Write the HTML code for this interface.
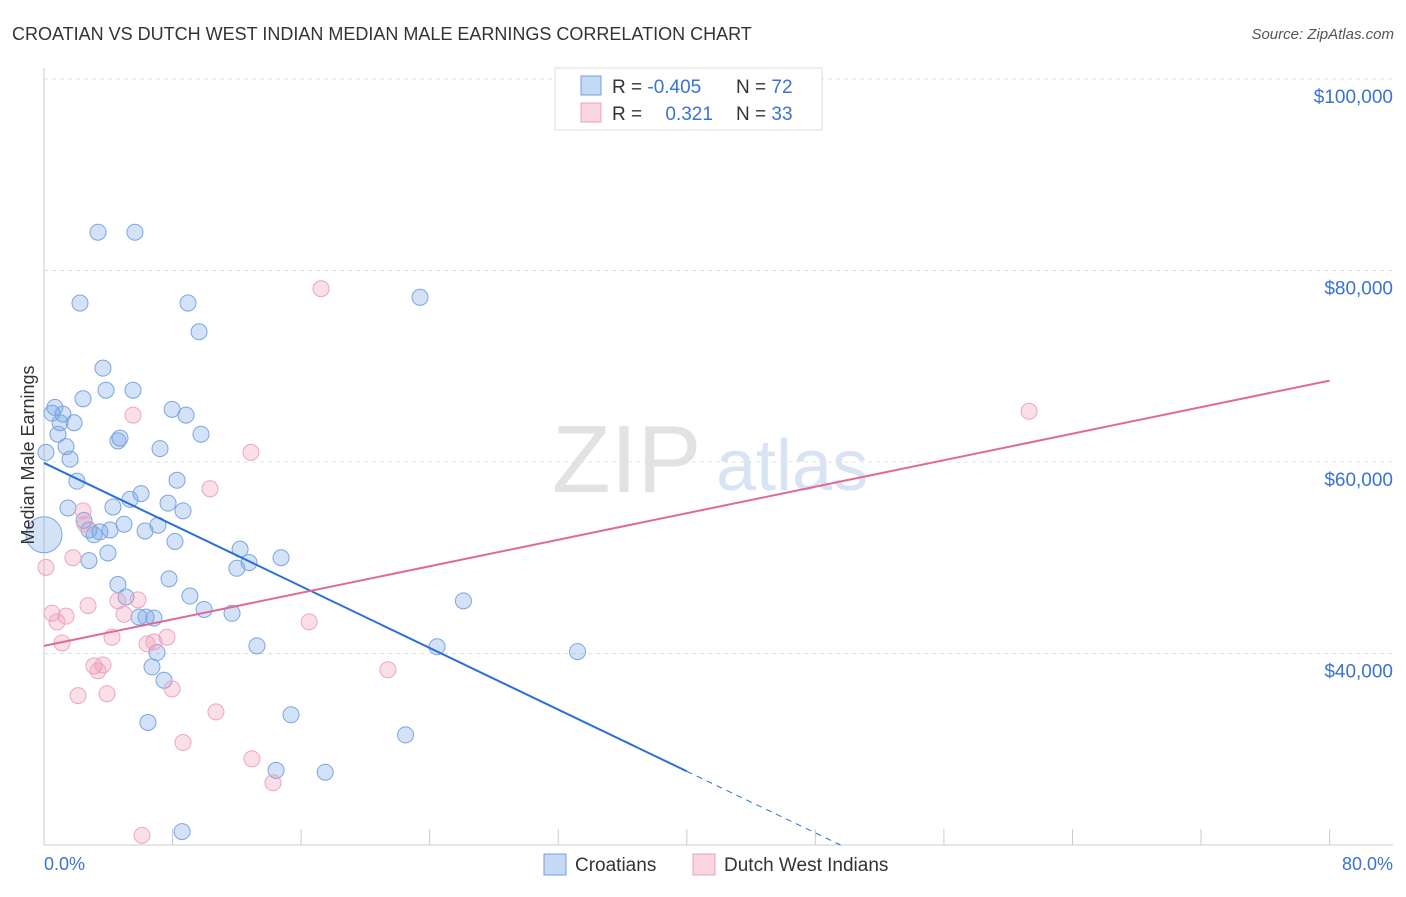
<!DOCTYPE html>
<html><head><meta charset="utf-8"><style>
body{margin:0;background:#fff;font-family:"Liberation Sans",sans-serif;}
svg text{font-family:"Liberation Sans",sans-serif;}
</style></head><body>
<svg id="chart" width="1406" height="892" xmlns="http://www.w3.org/2000/svg">
<text x="12" y="40" font-size="18" fill="#333">CROATIAN VS DUTCH WEST INDIAN MEDIAN MALE EARNINGS CORRELATION CHART</text>
<text x="1394" y="39" font-size="15" fill="#555" text-anchor="end" font-style="italic">Source: ZipAtlas.com</text>
<g>
<text x="552" y="492" font-size="96" fill="#e2e2e2" font-family="Liberation Serif,serif">ZIP</text>
<text x="716" y="490" font-size="72" fill="#d8e4f4">atlas</text>
</g>
<g id="grid"></g>
<g id="axes"></g>
<g id="marks"></g>
<text transform="translate(34,455) rotate(-90)" font-size="18" fill="#333" text-anchor="middle">Median Male Earnings</text>
<text x="44" y="870" font-size="18" fill="#3a73d1">0.0%</text>
<text x="1393" y="870" font-size="18" fill="#3a73d1" text-anchor="end">80.0%</text>
<g>
<rect x="555" y="68" width="267" height="62" fill="#fff" stroke="#ddd"/>
<rect x="581" y="76" width="20" height="19" fill="rgba(110,160,230,0.4)" stroke="#6f9fe0"/>
<rect x="581" y="103" width="20" height="19" fill="rgba(240,150,180,0.4)" stroke="#eea0ba"/>
<text x="612" y="93" font-size="19" fill="#333">R = <tspan fill="#3a73d1">-0.405</tspan></text>
<text x="736" y="93" font-size="19" fill="#333">N = <tspan fill="#3a73d1">72</tspan></text>
<text x="612" y="120" font-size="19" fill="#333">R = <tspan fill="#3a73d1" dx="18">0.321</tspan></text>
<text x="736" y="120" font-size="19" fill="#333">N = <tspan fill="#3a73d1">33</tspan></text>
</g>
<g>
<rect x="544" y="854" width="22" height="21" fill="rgba(110,160,230,0.4)" stroke="#6f9fe0"/>
<text x="575" y="871" font-size="19" fill="#333">Croatians</text>
<rect x="693" y="854" width="22" height="21" fill="rgba(240,150,180,0.4)" stroke="#eea0ba"/>
<text x="724" y="871" font-size="19" fill="#333">Dutch West Indians</text>
</g>
</svg>
<script>
const blueX=[3.36,5.66,2.24,8.96,23.4,9.65,3.67,3.86,5.54,2.43,0.68,0.5,1.18,7.97,8.84,1.0,1.87,9.77,4.73,4.6,0.87,1.37,7.22,1.62,0.12,2.05,8.28,6.04,5.35,7.72,1.49,4.29,8.65,2.49,4.98,7.09,2.8,3.48,6.29,4.11,3.11,8.15,12.2,3.98,14.75,2.8,12.76,12.0,7.78,4.6,5.1,9.08,26.1,9.96,11.7,5.91,6.35,6.84,13.25,24.46,33.2,7.03,6.72,7.47,15.37,6.47,22.5,14.44,17.5,8.59,0];
const blueY=[84000,84000,76600,76600,77200,73600,69800,67500,67500,66600,65700,65100,65000,65500,64900,64100,64100,62900,62500,62200,62900,61600,61400,60300,61000,58000,58100,56700,56100,55700,55200,55300,54900,53900,53500,53400,52900,52700,52800,52900,52400,51700,50900,50500,50000,49700,49500,48900,47800,47200,45900,46000,45500,44600,44200,43800,43800,43700,40800,40700,40200,40100,38600,37200,33600,32800,31500,27800,27600,21400,52400];
const pinkX=[17.24,61.3,5.54,12.88,10.33,2.43,2.55,1.8,0.12,0.5,1.37,2.74,0.81,1.12,4.6,5.85,4.98,6.84,7.65,4.23,6.41,16.5,3.11,3.67,3.36,21.4,2.12,3.92,7.97,10.7,8.65,12.94,14.25,6.1];
const pinkY=[78100,65300,64900,61000,57200,54900,53500,50000,49000,44200,43900,45000,43300,41100,45500,45600,44100,41200,41700,41700,41000,43300,38700,38800,38200,38300,35600,35800,36300,33900,30700,29000,26500,21000];
const yTicks=[100000,80000,60000,40000];
const yTickLabels=["$100,000","$80,000","$60,000","$40,000"];
const xTicks=[0,8,16,24,32,40,48,56,64,72,80];
const blueTrend=[59900,27700]; // at x=0 and x=40
const pinkTrend=[40800,68500]; // at x=0 and x=80
const NS="http://www.w3.org/2000/svg";
const sx=p=>44+p*16.07;
const sy=v=>79+(100000-v)/20000*191.5;
function mk(tag,attrs,parent){const e=document.createElementNS(NS,tag);for(const k in attrs)e.setAttribute(k,attrs[k]);parent.appendChild(e);return e;}
const grid=document.getElementById('grid'),axes=document.getElementById('axes'),marks=document.getElementById('marks');
yTicks.forEach((t,i)=>{
 const l=mk('line',{x1:44,x2:1393,y1:sy(t),y2:sy(t),stroke:'#e0e0e0','stroke-dasharray':'4,4'},grid);
 
 
 const tx=mk('text',{x:1393,y:sy(t)+24,'font-size':19,fill:'#3a73d1','text-anchor':'end'},grid);
 tx.textContent=yTickLabels[i];
 
 
});
const ya=mk('line',{x1:44,x2:44,y1:68,y2:845,stroke:'#ccc'},axes);


const xa=mk('line',{x1:44,x2:1393,y1:845,y2:845,stroke:'#ccc'},axes);


xTicks.forEach(t=>{
 const l=mk('line',{x1:sx(t),x2:sx(t),y1:829,y2:845,stroke:'#ccc'},axes);
 
 
});
blueX.forEach((x,i)=>{
 const big=(x===0);
 const c=mk('circle',{cx:sx(x),cy:sy(blueY[i]),r:big?18:8,fill:'rgba(110,160,230,0.3)',stroke:'#7aa6e3','stroke-width':1},marks);
 
 
});
pinkX.forEach((x,i)=>{
 const c=mk('circle',{cx:sx(x),cy:sy(pinkY[i]),r:8,fill:'rgba(240,150,180,0.3)',stroke:'#efa5be','stroke-width':1},marks);
 
 
});
const slope=(blueTrend[1]-blueTrend[0])/40;
const xEnd=(20000-blueTrend[0])/slope;
const bl=mk('line',{x1:sx(0),y1:sy(blueTrend[0]),x2:sx(40),y2:sy(blueTrend[1]),stroke:'#2a6fd8','stroke-width':2},marks);


const bd=mk('line',{x1:sx(40),y1:sy(blueTrend[1]),x2:sx(xEnd),y2:sy(20000),stroke:'#2a6fd8','stroke-width':1,'stroke-dasharray':'6,5'},marks);


const pl=mk('line',{x1:sx(0),y1:sy(pinkTrend[0]),x2:sx(80),y2:sy(pinkTrend[1]),stroke:'#e06a96','stroke-width':2},marks);


</script>
</body></html>
